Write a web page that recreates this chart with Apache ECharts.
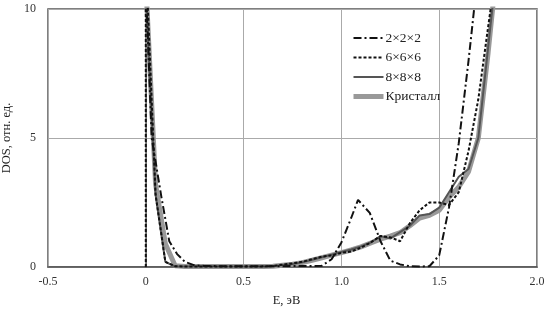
<!DOCTYPE html>
<html>
<head>
<meta charset="utf-8">
<script src="https://cdn.jsdelivr.net/npm/echarts@6/dist/echarts.min.js"></script>
<style>
  html, body { margin: 0; padding: 0; background: #fff; }
  #chart { width: 552px; height: 313px; }
</style>
</head>
<body>
<div id="chart"></div>
<script>
// energy values (эВ) and DOS
const e222 = [0, 0.03, 0.08, 0.12, 0.16, 0.2, 0.25, 0.3, 0.4, 0.5, 0.6, 0.7, 0.8, 0.85, 0.9, 0.95, 1.0, 1.05, 1.085, 1.145, 1.2, 1.25, 1.3, 1.35, 1.4, 1.45, 1.5, 1.55, 1.6, 1.65, 1.7];
const dos222 = [11, 5, 2.7, 1.0, 0.5, 0.2, 0.06, 0.04, 0.03, 0.03, 0.03, 0.03, 0.04, 0.04, 0.05, 0.3, 0.95, 1.9, 2.6, 2.1, 1.0, 0.25, 0.1, 0.03, 0.02, 0.03, 0.45, 2.3, 4.8, 8.0, 11.5];

const e666 = [0, 0, 0.05, 0.1, 0.15, 0.2, 0.3, 0.4, 0.5, 0.6, 0.65, 0.7, 0.75, 0.8, 0.85, 0.9, 0.95, 1.0, 1.05, 1.1, 1.15, 1.2, 1.25, 1.3, 1.35, 1.4, 1.45, 1.5, 1.55, 1.6, 1.65, 1.7, 1.75, 1.8];
const dos666 = [0, 12, 2.8, 0.2, 0.03, 0.02, 0.02, 0.02, 0.02, 0.02, 0.04, 0.09, 0.14, 0.2, 0.3, 0.4, 0.45, 0.55, 0.6, 0.75, 0.95, 1.2, 1.15, 1.0, 1.7, 2.2, 2.5, 2.5, 2.4, 2.9, 4.5, 6.5, 9.3, 12];

const e888 = [0, 0.05, 0.1, 0.15, 0.2, 0.3, 0.4, 0.5, 0.6, 0.65, 0.7, 0.75, 0.8, 0.85, 0.9, 0.95, 1.0, 1.05, 1.1, 1.15, 1.2, 1.25, 1.3, 1.35, 1.4, 1.45, 1.5, 1.55, 1.6, 1.65, 1.7, 1.75, 1.8];
const dos888 = [10.5, 2.8, 0.2, 0.02, 0.02, 0.02, 0.02, 0.02, 0.02, 0.03, 0.08, 0.12, 0.18, 0.28, 0.38, 0.48, 0.58, 0.68, 0.8, 0.95, 1.2, 1.1, 1.35, 1.6, 2.0, 2.05, 2.3, 2.9, 3.5, 3.8, 5.0, 8.5, 12];

const eCryst = [0, 0.05, 0.1, 0.15, 0.2, 0.3, 0.4, 0.5, 0.6, 0.65, 0.7, 0.75, 0.8, 0.85, 0.9, 0.95, 1.0, 1.05, 1.1, 1.15, 1.2, 1.25, 1.3, 1.35, 1.4, 1.45, 1.5, 1.55, 1.6, 1.65, 1.7, 1.75, 1.8];
const dosCryst = [11, 3.2, 0.9, 0.05, 0.02, 0.02, 0.02, 0.02, 0.02, 0.03, 0.07, 0.11, 0.17, 0.26, 0.36, 0.46, 0.56, 0.66, 0.78, 0.93, 1.08, 1.2, 1.33, 1.6, 1.9, 2.0, 2.2, 2.7, 3.1, 3.7, 5.0, 8.3, 12];

const names = ['2×2×2', '6×6×6', '8×8×8', 'Кристалл'];
const xTicks = { '-0.5': '-0.5', '0': '0', '0.5': '0.5', '1': '1.0', '1.5': '1.5', '2': '2.0' };

function pairs(xs, ys) {
  return xs.map((x, i) => [x, ys[i]]);
}

const font = '"Liberation Serif", "DejaVu Serif", serif';
const chart = echarts.init(document.getElementById('chart'));

chart.setOption({
  animation: false,
  grid: {
    left: 48, right: 15, top: 9, bottom: 46,
    outerBoundsMode: 'none',
    show: true, borderColor: '#555', borderWidth: 1.5
  },
  legend: {
    orient: 'vertical',
    left: 346, top: 26,
    itemWidth: 30, itemHeight: 10, itemGap: 5.5,
    itemStyle: { opacity: 0 },
    lineStyle: { width: 'inherit' },
    textStyle: { fontFamily: font, fontSize: 13.5, color: '#222', padding: [0, 0, 0, -3] },
    data: names
  },
  xAxis: {
    type: 'value',
    min: -0.5, max: 2, interval: 0.5,
    name: 'Е, эВ',
    nameLocation: 'middle',
    nameGap: 27,
    nameTextStyle: { fontFamily: font, fontSize: 12.5, color: '#222', padding: [0, 12, 0, 0] },
    axisLine: { show: true, onZero: false, lineStyle: { color: '#555', width: 1.5 } },
    axisTick: { show: false },
    axisLabel: {
      fontFamily: font, fontSize: 12, color: '#333', margin: 9,
      formatter: v => xTicks[String(v)] !== undefined ? xTicks[String(v)] : v
    },
    splitLine: { show: true, lineStyle: { color: '#aaa', width: 1 } }
  },
  yAxis: {
    type: 'value',
    min: 0, max: 10, interval: 5,
    name: 'DOS, отн. ед.',
    nameLocation: 'middle',
    nameGap: 32,
    nameTextStyle: { fontFamily: font, fontSize: 12.5, color: '#222' },
    axisLine: { show: true, lineStyle: { color: '#555', width: 1.5 } },
    axisTick: { show: false },
    axisLabel: { fontFamily: font, fontSize: 12, color: '#333', margin: 12 },
    splitLine: { show: true, lineStyle: { color: '#aaa', width: 1 } }
  },
  series: [
    {
      name: names[0], type: 'line', symbol: 'none', z: 5,
      lineStyle: { color: '#111', width: 2, type: [8, 3, 2, 3] },
      itemStyle: { color: '#111' },
      data: pairs(e222, dos222)
    },
    {
      name: names[1], type: 'line', symbol: 'none', z: 4,
      lineStyle: { color: '#111', width: 2, type: [3, 2] },
      itemStyle: { color: '#111' },
      data: pairs(e666, dos666)
    },
    {
      name: names[2], type: 'line', symbol: 'none', z: 3,
      lineStyle: { color: '#555', width: 2 },
      itemStyle: { color: '#555' },
      data: pairs(e888, dos888)
    },
    {
      name: names[3], type: 'line', symbol: 'none', z: 2,
      lineStyle: { color: '#999', width: 5 },
      itemStyle: { color: '#999' },
      data: pairs(eCryst, dosCryst)
    }
  ]
});
</script>
</body>
</html>
